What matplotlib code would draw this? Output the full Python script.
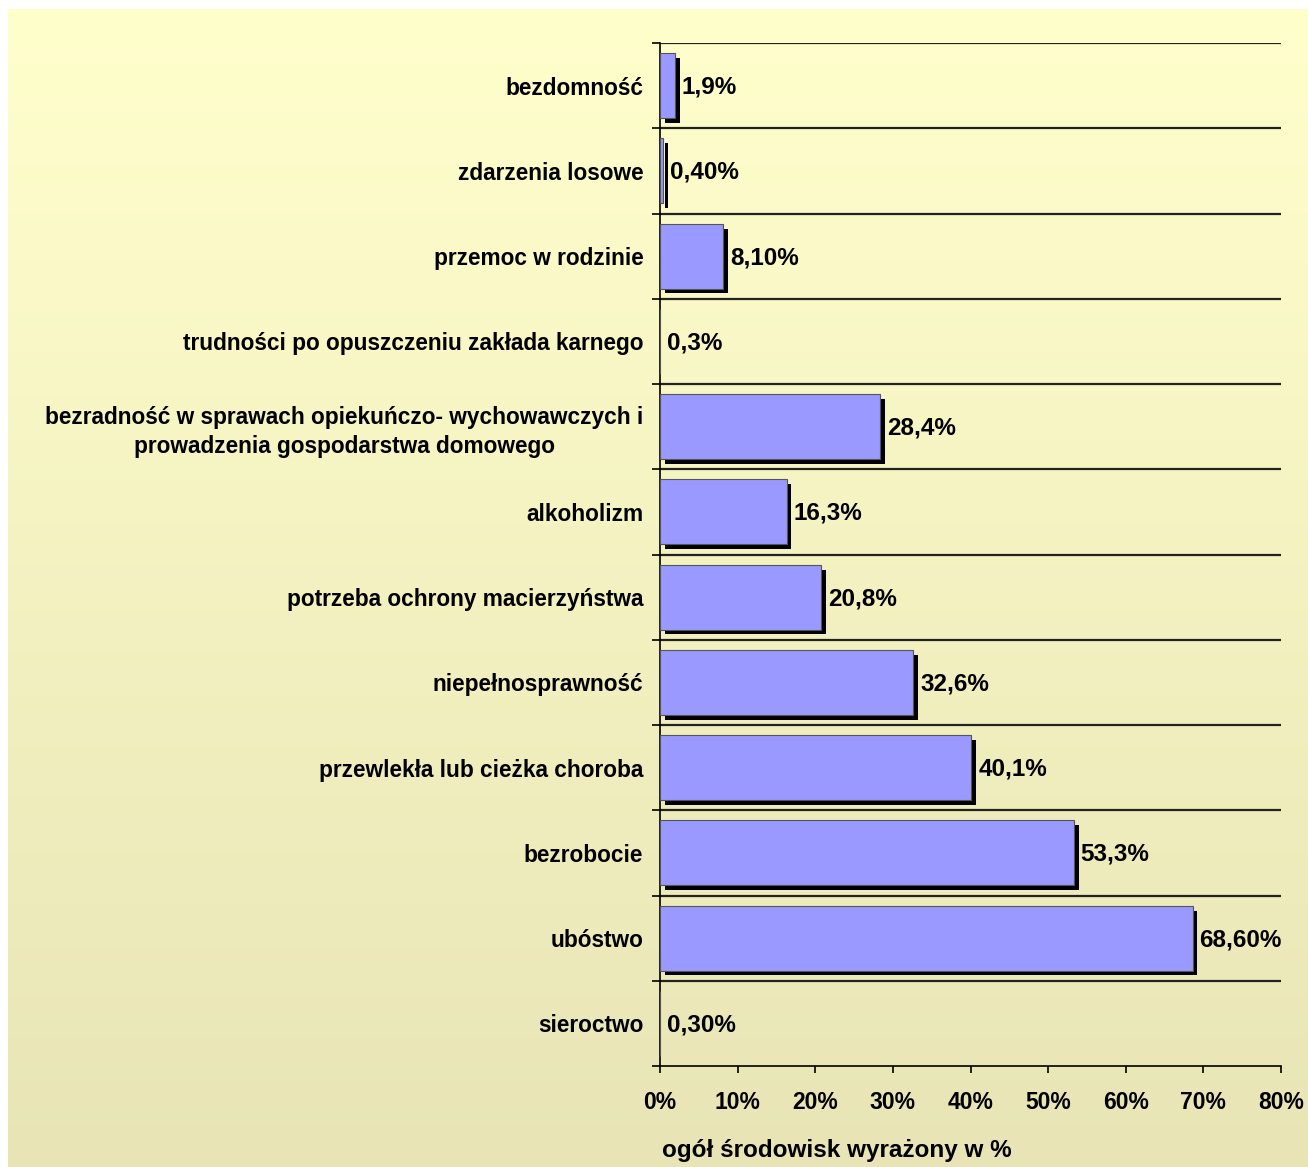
import numpy as np
import matplotlib
matplotlib.use('Agg')
import matplotlib.pyplot as plt
import matplotlib.patheffects as pe

plt.rcParams['font.family'] = ['Liberation Sans', 'DejaVu Sans']
plt.rcParams['font.weight'] = 'bold'

# Data, top to bottom as in the chart
categories = [
    'bezdomność',
    'zdarzenia losowe',
    'przemoc w rodzinie',
    'trudności po opuszczeniu zakłada karnego',
    'bezradność w sprawach opiekuńczo- wychowawczych i\nprowadzenia gospodarstwa domowego',
    'alkoholizm',
    'potrzeba ochrony macierzyństwa',
    'niepełnosprawność',
    'przewlekła lub cieżka choroba',
    'bezrobocie',
    'ubóstwo',
    'sieroctwo',
]
# bar lengths as drawn (no visible bar for two categories)
bar_values = [1.9, 0.4, 8.1, 0.0, 28.4, 16.3, 20.8, 32.6, 40.1, 53.3, 68.6, 0.0]
value_labels = ['1,9%', '0,40%', '8,10%', '0,3%', '28,4%', '16,3%', '20,8%',
                '32,6%', '40,1%', '53,3%', '68,60%', '0,30%']
x_ticks = [0, 10, 20, 30, 40, 50, 60, 70, 80]

W, H = 1308, 1167
fig = plt.figure(figsize=(W / 100, H / 100), dpi=100)
fig.patch.set_facecolor('white')

# gradient background
bg = fig.add_axes([8 / W, 0, 1 - 8 / W, 1 - 9 / H])
top_col = np.array([255, 255, 204]) / 255
bot_col = np.array([232, 228, 182]) / 255
t = np.linspace(0, 1, 256)[:, None]
grad = top_col[None, :] * (1 - t) + bot_col[None, :] * t
bg.imshow(grad[:, None, :], aspect='auto', extent=[0, 1, 0, 1])
bg.axis('off')

ax = fig.add_axes([660 / W, 1 - 1066 / H, (1281 - 660) / W, (1066 - 43) / H])
ax.patch.set_alpha(0)

y = np.arange(len(categories))
bars = ax.barh(y, bar_values, height=0.76, color='#9999FF', edgecolor='#555555',
               linewidth=0.8, zorder=3)
for b in bars:
    b.set_path_effects([pe.SimplePatchShadow(offset=(3.5, -3.5), shadow_rgbFace='black', alpha=1.0),
                        pe.Normal()])

for yi, v, lab in zip(y, bar_values, value_labels):
    ax.annotate(lab, (v, yi), xytext=(5, -1), textcoords='offset points',
                va='center', ha='left', fontsize=17.5, fontweight='bold', zorder=4)

ax.set_xlim(0, 80)
ax.set_ylim(len(categories) - 0.5, -0.5)

# gridlines at category boundaries
bounds = np.arange(-0.5, len(categories) + 0.5, 1)
for bnd in bounds[:-1]:
    ax.axhline(bnd, color='#222222', linewidth=1.6, zorder=1)
ax.set_yticks(bounds)
ax.set_yticklabels([])
ax.tick_params(axis='y', which='major', length=6, width=1.2, direction='out')
ax.set_yticks(y, minor=True)
ax.set_yticklabels(categories, minor=True, fontsize=16.3, fontweight='bold',
                   multialignment='center', linespacing=1.35)
ax.tick_params(axis='y', which='minor', length=0, pad=12)

ax.set_xticks(x_ticks)
ax.set_xticklabels([f'{v}%' for v in x_ticks], fontsize=16.5, fontweight='bold')
ax.tick_params(axis='x', length=5, width=1.2, direction='out', pad=13)

for s in ['top', 'right']:
    ax.spines[s].set_visible(False)
ax.spines['left'].set_linewidth(1.2)
ax.spines['bottom'].set_linewidth(1.2)

fig.text(662 / W, 1 - 1150 / H, 'ogół środowisk wyrażony w %', ha='left', va='center',
         fontsize=17.5, fontweight='bold')

fig.savefig('out.png', dpi=100)
